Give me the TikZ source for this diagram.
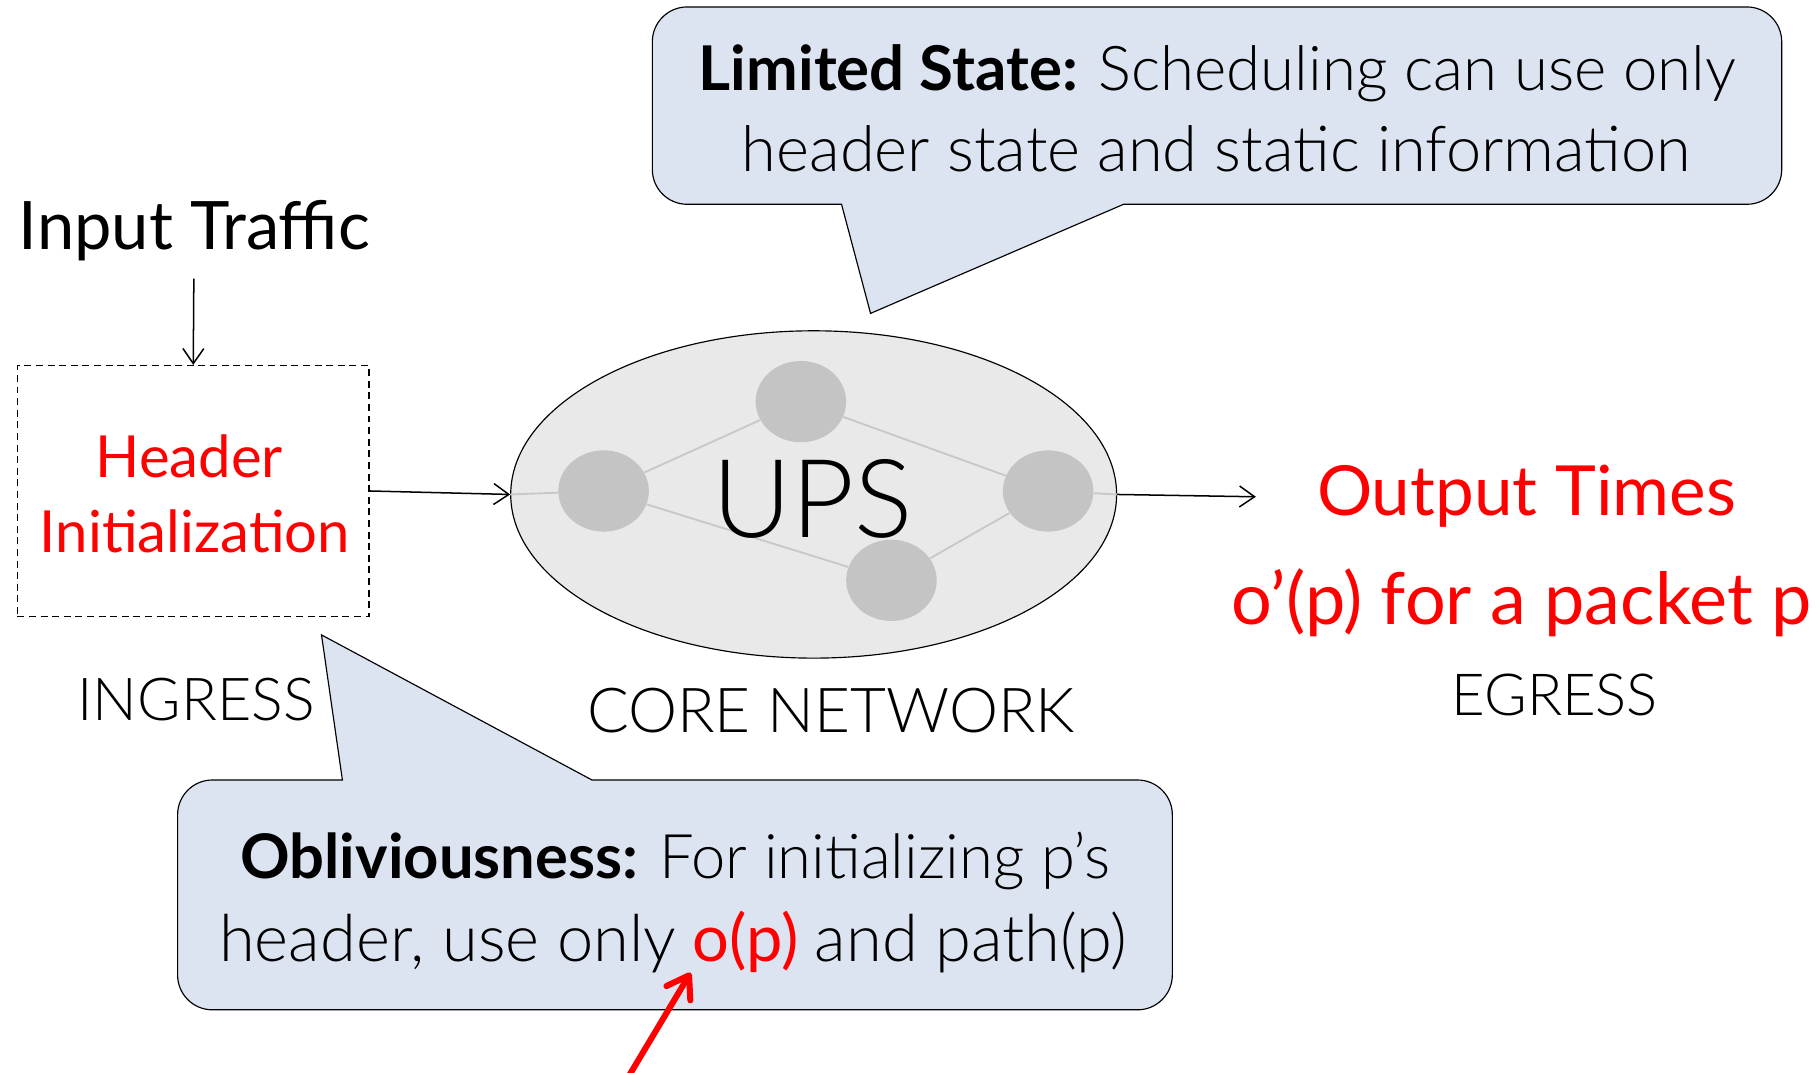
\documentclass[tikz,border=0pt]{standalone}
\usepackage{fontspec}
\setmainfont{Lato}
\newfontfamily\lightf{Lato Light}
\usetikzlibrary{shapes.geometric,arrows.meta}
\definecolor{calloutfill}{RGB}{220,228,242}
\definecolor{corefill}{RGB}{233,233,233}
\definecolor{nodegray}{RGB}{196,196,196}
\definecolor{linegray}{RGB}{200,200,200}
\definecolor{pred}{RGB}{255,0,0}
\tikzset{
  txt/.style={inner sep=0pt, anchor=base},
  thinarrow/.style={line width=0.65pt, -{Straight Barb[length=6.5pt,width=9pt]}},
  netnode/.style={ellipse, fill=nodegray, minimum width=39pt, minimum height=35pt, inner sep=0pt},
  netline/.style={draw=linegray, line width=0.8pt},
  callout/.style={fill=calloutfill, draw=black, line width=0.5pt},
}
\begin{document}
\begin{tikzpicture}[x=0.5pt,y=-0.5pt]
\useasboundingbox (0,0) rectangle (1568,924);
% top callout
\path[callout] (725,176) -- (750,270) -- (968,176) [rounded corners=15pt] -- (1535,176) -- (1535,6) -- (562,6) -- (562,176) [sharp corners] -- cycle;
% bottom callout
\path[callout] (510,672) -- (277,547) -- (295,672) [rounded corners=15pt] -- (153,672) -- (153,870) -- (1010,870) -- (1010,672) [sharp corners] -- cycle;

\node[txt, font=\fontsize{26.6pt}{30pt}\selectfont] (lim1) at (1049,78) {\textbf{Limited State:} {\lightf Scheduling can use only}};
\node[txt, font=\fontsize{27.2pt}{30pt}\selectfont\lightf] (lim2) at (1048,148) {header state and static information};
\node[txt, font=\fontsize{26.5pt}{30pt}\selectfont] (obl1) at (582,757) {\textbf{Obliviousness:} {\lightf For initializing p’s}};
\node[txt, font=\fontsize{28pt}{30pt}\selectfont] (obl2) at (580,828) {{\lightf header, use only} \textcolor{pred}{o(p)} {\lightf and path(p)}};

% input
\node[txt, font=\fontsize{28.8pt}{30pt}\selectfont] (input) at (167.5,215) {Input Traffic};
\node[draw, dashed, dash pattern=on 3pt off 2pt, line width=0.6pt, minimum width=151.5pt, minimum height=108pt, inner sep=0pt] (hbox) at (166.5,423) {};
\draw[thinarrow] (167,240) -- (hbox.north);
\node[txt, text=pred, font=\fontsize{25pt}{30pt}\selectfont] (hdr1) at (163,411) {Header};
\node[txt, text=pred, font=\fontsize{25pt}{30pt}\selectfont] (hdr2) at (168,476) {Initialization};
\node[txt, font=\fontsize{25.5pt}{30pt}\selectfont\lightf] (ingress) at (169,621) {INGRESS};

% core
\node[ellipse, draw=black, line width=0.5pt, fill=corefill, minimum width=261pt, minimum height=141pt, inner sep=0pt] (core) at (701,426) {};
\node[netnode] (nl) at (520,423) {};
\node[netnode] (nt) at (690,346) {};
\node[netnode] (nr) at (903,423) {};
\node[netnode] (nb) at (768,500) {};
\draw[netline] (core.west) -- (nl);
\draw[netline] (nl) -- (nt);
\draw[netline] (nt) -- (nr);
\draw[netline] (nl) -- (nb);
\draw[netline] (nb) -- (nr);
\draw[netline] (nr) -- (core.east);
\node[txt, font=\fontsize{47pt}{50pt}\selectfont\lightf] (ups) at (700,463) {UPS};
\node[txt, font=\fontsize{26.7pt}{30pt}\selectfont\lightf] (corelbl) at (716,631) {CORE NETWORK};

\draw[thinarrow] (hbox.east) -- (core.west);

% output
\node[txt, text=pred, font=\fontsize{29.8pt}{34pt}\selectfont] (out1) at (1315,444) {Output Times};
\node[txt, text=pred, font=\fontsize{31pt}{34pt}\selectfont] (out2) at (1311,538) {o’(p) for a packet p};
\node[txt, font=\fontsize{25pt}{30pt}\selectfont\lightf] (egress) at (1339.5,616) {EGRESS};
\coordinate (outarr) at (1082,428);
\draw[thinarrow] (core.east) -- (outarr);

% red arrow
\coordinate (redstart) at (540,930);
\coordinate (redend) at (595,838);
\draw[pred, line width=2.6pt, line cap=round, -{Straight Barb[round, length=9pt, width=12pt]}] (redstart) -- (redend);
\end{tikzpicture}
\end{document}
